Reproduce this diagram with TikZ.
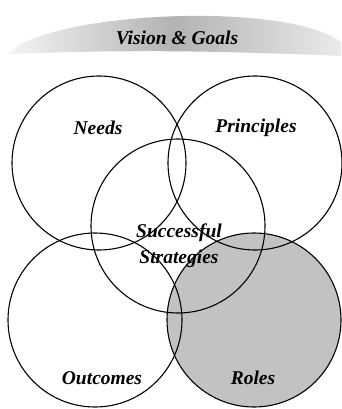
\documentclass[tikz,border=0pt]{standalone}
\usepackage{fontspec}
\setmainfont{Liberation Serif}
\usepackage{tikz}
\usetikzlibrary{positioning}

\begin{document}
\begin{tikzpicture}[x=1pt, y=-1pt, ring/.style={draw, circle, line width=1.1pt, minimum size=174pt, inner sep=0pt}, lbl/.style={font=\fontsize{19.5}{26}\selectfont\bfseries\itshape, align=center, inner sep=1pt}]
    \useasboundingbox (0,0) rectangle (341,409);

    % Banner
    \shade[left color=black!4, right color=black!8, middle color=black!30] (8,54) .. controls (45,12) and (285,0) .. (341,42) -- (341,56) .. controls (200,50) and (120,50) .. (8,54) -- cycle;
    \node[lbl] (vision) at (177,38) {Vision \& Goals};

    % Shaded circle
    \fill[black!24] (254,320) circle (87pt);

    % Circles
    \node[ring] (needs) at (99,163) {};
    \node[ring] (principles) at (255,163) {};
    \node[ring] (strategies) at (178,226) {};
    \node[ring] (outcomes) at (95,320) {};
    \node[ring] (roles) at (254,320) {};

    % Labels
    \node[lbl] (needslbl) at (98,128) {Needs};
    \node[lbl] (principleslbl) at (256,128) {Principles};
    \node[lbl] (strategieslbl) at (179,246) {Successful\\Strategies};
    \node[lbl] (outcomeslbl) at (102,378) {Outcomes};
    \node[lbl] (roleslbl) at (253,378) {Roles};
\end{tikzpicture}
\end{document}
